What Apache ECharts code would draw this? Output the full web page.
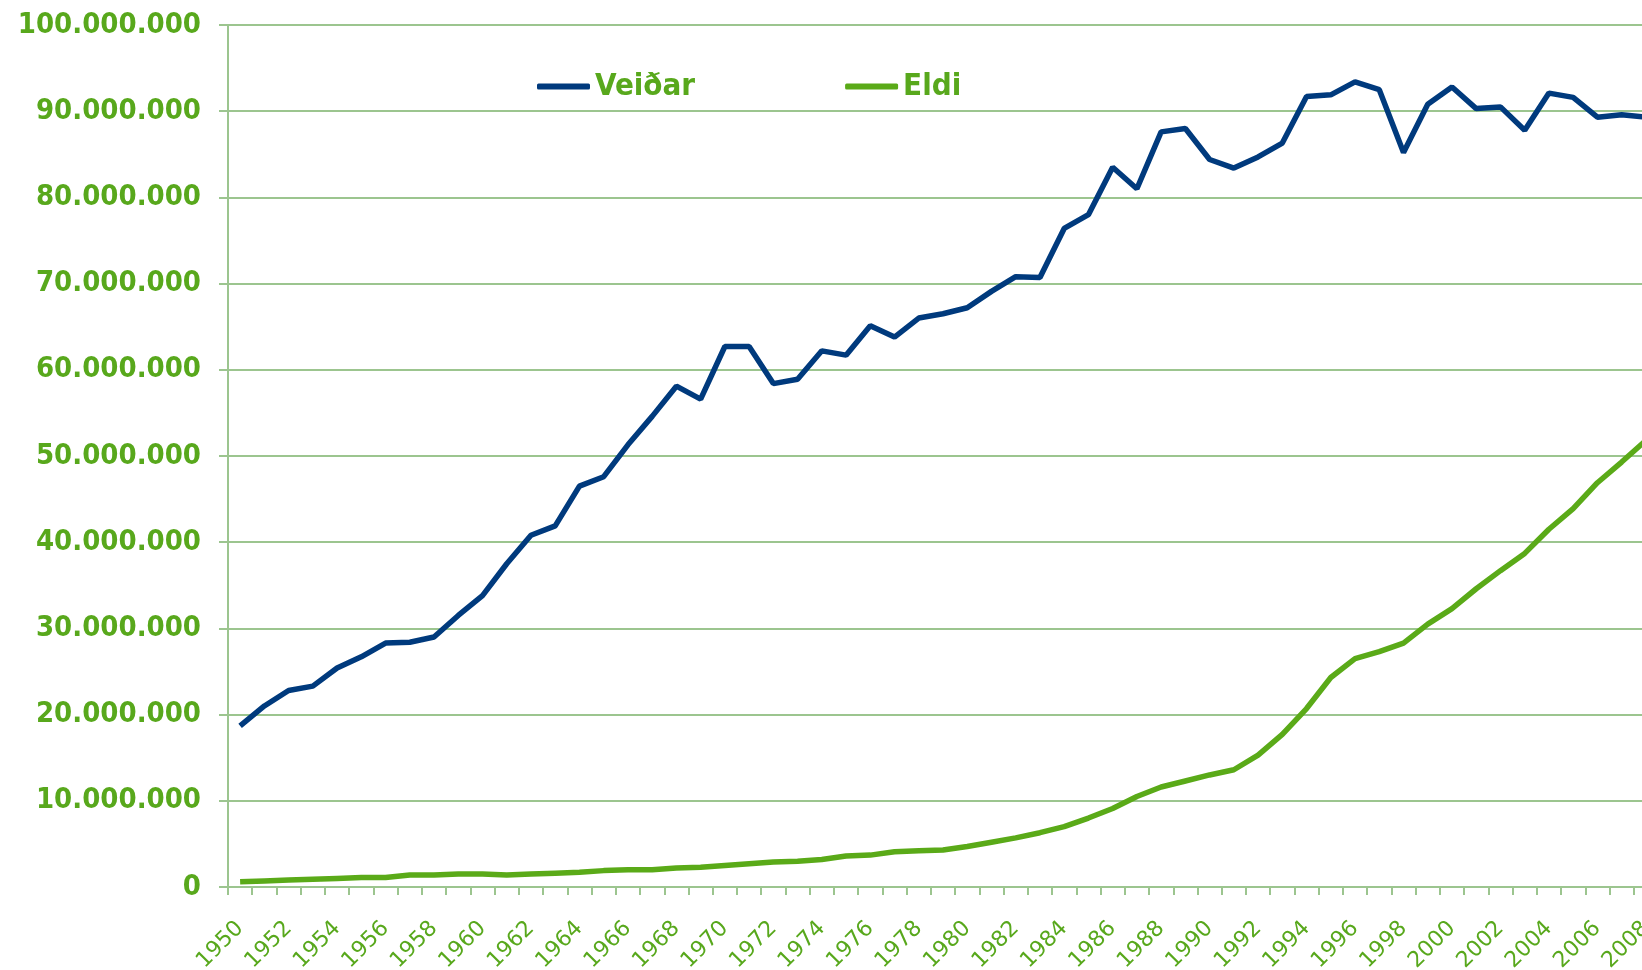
<!DOCTYPE html>
<html>
<head>
<meta charset="utf-8">
<script src="https://cdn.jsdelivr.net/npm/echarts@6/dist/echarts.min.js"></script>
<style>
  html, body { margin: 0; padding: 0; background: #fff; overflow: hidden; }
  #chart { width: 1642px; height: 970px; }
</style>
</head>
<body>
<div id="chart"></div>
<script>
// ár 1950 - 2008
const years = [];
for (let y = 1950; y <= 2008; y++) years.push(String(y));

// Veiðar (tonn)
const veidar = [
  18.7, 21.0, 22.8, 23.3, 25.4, 26.7, 28.3, 28.4, 29.0, 31.5,
  33.8, 37.5, 40.8, 41.9, 46.5, 47.6, 51.3, 54.6, 58.1, 56.6,
  62.7, 62.7, 58.4, 58.9, 62.2, 61.7, 65.1, 63.8, 66.0, 66.5,
  67.2, 69.1, 70.8, 70.7, 76.4, 78.0, 83.5, 81.0, 87.6, 88.0,
  84.4, 83.4, 84.7, 86.3, 91.7, 91.9, 93.4, 92.5, 85.2, 90.8,
  92.8, 90.3, 90.5, 87.8, 92.1, 91.6, 89.3, 89.6, 89.3
].map(v => v * 1e6);

// Eldi (tonn)
const eldi = [
  0.6, 0.7, 0.8, 0.9, 1.0, 1.1, 1.1, 1.4, 1.4, 1.5,
  1.5, 1.4, 1.5, 1.6, 1.7, 1.9, 2.0, 2.0, 2.2, 2.3,
  2.5, 2.7, 2.9, 3.0, 3.2, 3.6, 3.7, 4.1, 4.2, 4.3,
  4.7, 5.2, 5.7, 6.3, 7.0, 8.0, 9.1, 10.5, 11.6, 12.3,
  13.0, 13.6, 15.3, 17.7, 20.7, 24.3, 26.5, 27.3, 28.3, 30.5,
  32.3, 34.6, 36.7, 38.7, 41.5, 43.9, 46.9, 49.3, 51.8
].map(v => v * 1e6);

const GREEN_TEXT = '#58a81c';
const GRID = '#9cc58f';

const myChart = echarts.init(document.getElementById('chart'));

// punktar sem þúsundaskil
const fmt = v => String(v).replace(/\B(?=(\d{3})+(?!\d))/g, '.');

myChart.setOption({
  backgroundColor: '#ffffff',
  animation: false,
  grid: { left: 228, top: 25, bottom: 83, right: -16, outerBoundsMode: 'none', containLabel: false },
  legend: {
    left: 532,
    top: 66,
    itemWidth: 53,
    itemHeight: 6,
    itemGap: 150,
    icon: 'roundRect',
    textStyle: {
      color: GREEN_TEXT,
      fontFamily: 'DejaVu Sans Condensed',
      fontWeight: 'bold',
      fontSize: 31
    },
    data: ['Veiðar', 'Eldi']
  },
  xAxis: {
    type: 'category',
    data: years,
    boundaryGap: true,
    axisLine: { lineStyle: { color: GRID, width: 2 } },
    axisTick: { show: true, interval: 0, length: 8, lineStyle: { color: GRID, width: 2 } },
    axisLabel: {
      interval: 1,
      rotate: 45,
      margin: 38,
      color: GREEN_TEXT,
      fontFamily: 'DejaVu Sans',
      fontSize: 22
    }
  },
  yAxis: {
    type: 'value',
    min: 0,
    max: 100000000,
    interval: 10000000,
    axisLine: { show: true, lineStyle: { color: GRID, width: 2 } },
    axisTick: { show: true, length: 9, lineStyle: { color: GRID, width: 2 } },
    splitLine: { lineStyle: { color: GRID, width: 2 } },
    axisLabel: {
      margin: 27,
      color: GREEN_TEXT,
      fontFamily: 'DejaVu Sans Condensed',
      fontWeight: 'bold',
      fontSize: 29,
      formatter: fmt
    }
  },
  series: [
    {
      name: 'Veiðar',
      type: 'line',
      data: veidar,
      symbol: 'none',
      color: '#003a7d',
      lineStyle: { width: 5.5, color: '#003a7d' }
    },
    {
      name: 'Eldi',
      type: 'line',
      data: eldi,
      symbol: 'none',
      color: '#5aaa18',
      lineStyle: { width: 5.5, color: '#5aaa18' }
    }
  ]
});
</script>
</body>
</html>
